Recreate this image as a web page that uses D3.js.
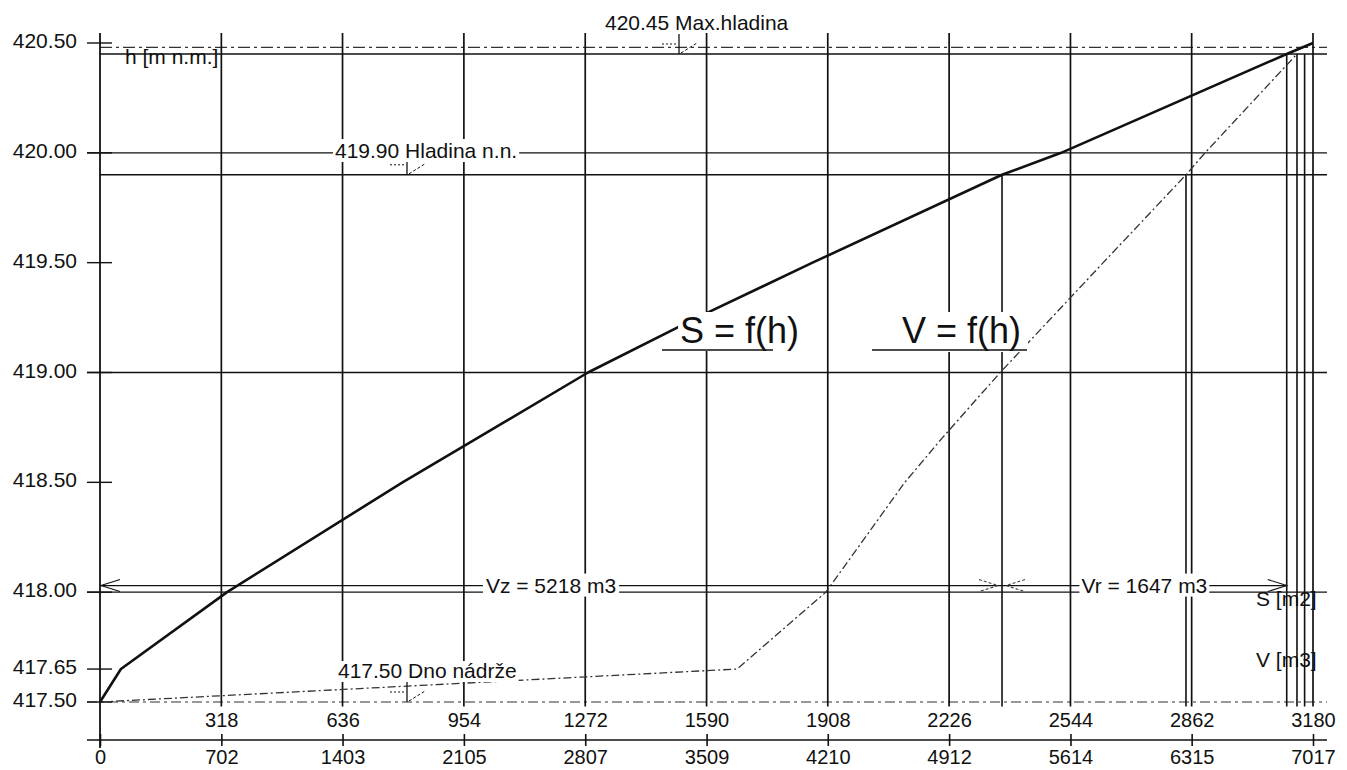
<!DOCTYPE html>
<html><head><meta charset="utf-8">
<script src="https://cdn.jsdelivr.net/npm/d3@7"></script>
<style>
html,body{margin:0;padding:0;background:#fff;}
svg{display:block;}
text{font-family:"Liberation Sans",Arial,Helvetica,sans-serif;fill:#111;}
</style></head><body>
<svg id="chart" width="1347" height="770"></svg>
<script>
// ---------------- data ----------------
const levelTicks   = [420.50, 420.00, 419.50, 419.00, 418.50, 418.00, 417.65, 417.50];
const volumeTicks  = [0, 702, 1403, 2105, 2807, 3509, 4210, 4912, 5614, 6315, 7017];
const areaTicks    = [318, 636, 954, 1272, 1590, 1908, 2226, 2544, 2862, 3180];
const fullLevels   = [420.00, 419.90, 419.00, 418.00];

// V = f(h)  (solid curve, m3)
const volLevels = [417.50, 417.65, 418.00, 418.50, 418.70, 419.00, 419.25, 419.50, 419.90, 420.00, 420.45, 420.50];
const volumes   = [0, 121, 735, 1750, 2180, 2823, 3454, 4122, 5218, 5560, 6865, 7017];
// S = f(h)  (dotted curve, m2)
const areaLevels = [417.50, 417.65, 418.00, 418.50, 418.70, 419.00, 419.50, 419.90, 420.00, 420.45];
const areas      = [0, 1670, 1903, 2110, 2207, 2360, 2630, 2847, 2897, 3138];

// reference levels
const maxLevel = 420.45, normalLevel = 419.90, bottomLevel = 417.50;
const upperDashLevel = 420.48, dimLevel = 418.03;
const Vz = 5218, Vr = 1647;
// drop lines
const dropVolumes = [5218, 6865];
const dropVolumeLevels = [419.90, 420.45];
const dropAreas = [2847, 3138, 3158];
const dropAreaLevels = [419.90, 420.45, 420.45];

// ---------------- drawing ----------------
const svg = d3.select('#chart');
const ink = '#111';
const xV = d3.scaleLinear().domain([0, 7017]).range([100, 1313]);
const xS = d3.scaleLinear().domain([0, 3180]).range([100, 1313]);
const y  = d3.scaleLinear().domain([417.5, 420.5]).range([702, 43]);
const L = 87, R = 1327;
const gridTop = y(420.545), gridBottom = y(417.48);

const gLines = svg.append('g');
// horizontal full lines
gLines.selectAll('line.h').data(fullLevels).join('line')
  .attr('x1', d => d === normalLevel ? 100 : L).attr('x2', R)
  .attr('y1', d => y(d)).attr('y2', d => y(d))
  .attr('stroke', ink).attr('stroke-width', 1.4);
// max level solid + dashed line above
gLines.append('line').attr('x1', 100).attr('x2', R).attr('y1', y(maxLevel)).attr('y2', y(maxLevel))
  .attr('stroke', ink).attr('stroke-width', 1.4);
gLines.append('line').attr('x1', 100).attr('x2', R).attr('y1', y(upperDashLevel)).attr('y2', y(upperDashLevel))
  .attr('stroke', '#333').attr('stroke-width', 1.1).attr('stroke-dasharray', '12,4,3,4');
// bottom level dash-dot
gLines.append('line').attr('x1', L).attr('x2', R).attr('y1', y(bottomLevel)).attr('y2', y(bottomLevel))
  .attr('stroke', '#333').attr('stroke-width', 1.2).attr('stroke-dasharray', '10,4,3,4');
// y ticks
gLines.selectAll('line.t').data(levelTicks).join('line')
  .attr('x1', L).attr('x2', 112).attr('y1', d => y(d)).attr('y2', d => y(d))
  .attr('stroke', ink).attr('stroke-width', 1.4);

// vertical grid
gLines.selectAll('line.v').data(volumeTicks.slice(1)).join('line')
  .attr('x1', d => xV(d)).attr('x2', d => xV(d)).attr('y1', gridTop).attr('y2', gridBottom)
  .attr('stroke', ink).attr('stroke-width', 1.7);
// y axis line
gLines.append('line').attr('x1', xV(0)).attr('x2', xV(0)).attr('y1', gridTop).attr('y2', 748)
  .attr('stroke', ink).attr('stroke-width', 1.8);

// drop lines
gLines.selectAll('line.dv').data(dropVolumes).join('line')
  .attr('x1', d => xV(d)).attr('x2', d => xV(d))
  .attr('y1', (d, i) => y(dropVolumeLevels[i])).attr('y2', gridBottom)
  .attr('stroke', ink).attr('stroke-width', 1.6);
gLines.selectAll('line.ds').data(dropAreas).join('line')
  .attr('x1', d => xS(d)).attr('x2', d => xS(d))
  .attr('y1', (d, i) => y(dropAreaLevels[i])).attr('y2', gridBottom)
  .attr('stroke', ink).attr('stroke-width', 1.6);

// bottom axis (V)
const axisY = 740;
const vAxis = d3.axisBottom(xV).tickValues(volumeTicks).tickFormat(d3.format('d'))
  .tickSizeInner(6).tickSizeOuter(0).tickPadding(4);
const gV = svg.append('g').attr('transform', `translate(0,${axisY})`).call(vAxis);
gV.select('.domain').remove();
gV.selectAll('line').attr('stroke', ink).attr('stroke-width', 1.6);
gV.selectAll('text').attr('font-size', 20).attr('fill', ink);
const vAxisUp = d3.axisBottom(xV).tickValues(volumeTicks).tickFormat('').tickSizeInner(-6).tickSizeOuter(0);
const gVu = svg.append('g').attr('transform', `translate(0,${axisY})`).call(vAxisUp);
gVu.select('.domain').remove();
gVu.selectAll('line').attr('stroke', ink).attr('stroke-width', 1.6);
svg.append('line').attr('x1', L).attr('x2', R).attr('y1', axisY).attr('y2', axisY)
  .attr('stroke', ink).attr('stroke-width', 1.4);

// S axis labels
const sAxis = d3.axisBottom(xS).tickValues(areaTicks).tickFormat(d3.format('d')).tickSize(0).tickPadding(11);
const gS = svg.append('g').attr('transform', `translate(0,${y(bottomLevel)})`).call(sAxis);
gS.select('.domain').remove();
gS.selectAll('text').attr('font-size', 20).attr('fill', ink);

// y axis labels
const yAxis = d3.axisLeft(y).tickValues(levelTicks).tickFormat(d3.format('.2f')).tickSize(0).tickPadding(23);
const gY = svg.append('g').attr('transform', 'translate(100,0)').call(yAxis);
gY.select('.domain').remove();
gY.selectAll('text').attr('font-size', 21).attr('fill', ink).attr('dy', '0.22em');

// curves
const volData = volLevels.map((h, i) => ({h, v: volumes[i]}));
const areaData = areaLevels.map((h, i) => ({h, s: areas[i]}));
svg.append('path').datum(areaData)
  .attr('d', d3.line().x(d => xS(d.s)).y(d => y(d.h)))
  .attr('fill', 'none').attr('stroke', '#333').attr('stroke-width', 1.3)
  .attr('stroke-dasharray', '8,3,2,3');
svg.append('path').datum(volData)
  .attr('d', d3.line().x(d => xV(d.v)).y(d => y(d.h)))
  .attr('fill', 'none').attr('stroke', ink).attr('stroke-width', 2.6).attr('stroke-linejoin', 'round');

// dimension line Vz / Vr
const dy = y(dimLevel);
const xa = xV(0), xm = xV(Vz), xb = xV(Vz + Vr);
svg.append('line').attr('x1', xa).attr('x2', xb).attr('y1', dy).attr('y2', dy)
  .attr('stroke', ink).attr('stroke-width', 1.2);
function arrow(xt, dir, dashed) {
  svg.append('path')
    .attr('d', `M${xt + dir * 19},${dy - 6}L${xt},${dy}L${xt + dir * 19},${dy + 6}`)
    .attr('fill', 'none').attr('stroke', dashed ? '#444' : ink).attr('stroke-width', 1.1)
    .attr('stroke-dasharray', dashed ? '3,2' : null);
}
arrow(xa + 1, 1, false);
arrow(xm - 4, -1, true);
arrow(xm + 4, 1, true);
arrow(xb, -1, false);

// level markers
function levelMark(xk, lv) {
  const yk = y(lv);
  const g = svg.append('g').attr('stroke', ink).attr('fill', 'none');
  g.append('line').attr('x1', xk).attr('x2', xk).attr('y1', yk - 20).attr('y2', yk).attr('stroke-width', 1.3);
  g.append('line').attr('x1', xk - 17).attr('x2', xk - 2).attr('y1', yk - 10).attr('y2', yk - 10)
    .attr('stroke-width', 1).attr('stroke-dasharray', '2,2');
  g.append('line').attr('x1', xk + 2).attr('x2', xk + 18).attr('y1', yk - 1).attr('y2', yk - 11)
    .attr('stroke-width', 1).attr('stroke-dasharray', '3,2');
}
levelMark(679, maxLevel);
levelMark(407, normalLevel);
levelMark(407, bottomLevel);

// text with optional white box
function label(txt, xt, yt, size, anchor, box, pad) {
  const t = svg.append('text').attr('x', xt).attr('y', yt).attr('font-size', size)
    .attr('text-anchor', anchor || 'start').text(txt);
  if (box) {
    const b = t.node().getBBox();
    const p = pad || [2, 1];
    svg.insert('rect', () => t.node())
      .attr('x', b.x - p[0]).attr('y', b.y + p[1]).attr('width', b.width + 2 * p[0]).attr('height', b.height - p[1])
      .attr('fill', '#fff');
  }
  return t;
}

label('420.45 Max.hladina', 605, 30, 21);
label('419.90 Hladina n.n.', 335, 158, 21, 'start', true, [2, 0]);
label('417.50 Dno nádrže', 338, 678, 21, 'start', true, [2, 2]);
label('h [m n.m.]', 125, 64, 21);
label('S [m2]', 1256, 606, 21);
label('V [m3]', 1256, 667, 21);
label('Vz = 5218 m3', (xa + xm) / 2, dy + 7, 21, 'middle', true, [3, 0]);
label('Vr = 1647 m3', (xm + xb) / 2, dy + 7, 21, 'middle', true, [2, 0]);

// function labels
svg.append('rect').attr('x', 678).attr('y', 312).attr('width', 122).attr('height', 39).attr('fill', '#fff');
svg.append('rect').attr('x', 895).attr('y', 312).attr('width', 133).attr('height', 40).attr('fill', '#fff');
label('S = f(h)', 680, 343, 36);
label('V = f(h)', 902, 343, 36);
svg.append('line').attr('x1', 662).attr('x2', 773).attr('y1', 350).attr('y2', 350).attr('stroke', ink).attr('stroke-width', 1.6);
svg.append('line').attr('x1', 872).attr('x2', 1027).attr('y1', 350).attr('y2', 350).attr('stroke', ink).attr('stroke-width', 1.6);
</script>
</body></html>
